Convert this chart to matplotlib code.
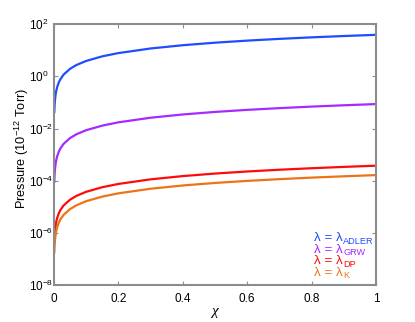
import matplotlib
matplotlib.use("Agg")
import matplotlib.pyplot as plt

plt.rcParams["font.family"] = ["Liberation Sans", "DejaVu Sans"]
plt.rcParams["mathtext.fontset"] = "custom"
plt.rcParams["mathtext.rm"] = "Liberation Sans"
plt.rcParams["mathtext.it"] = "Liberation Sans"

GRAY = "#8c8c8c"

chi = [0.001, 0.002, 0.003, 0.005, 0.007, 0.01, 0.015, 0.02, 0.03, 0.05, 0.07,
       0.1, 0.15, 0.2, 0.3, 0.4, 0.5, 0.6, 0.7, 0.8, 0.9, 1.0]
p_adler = [0.039, 0.078, 0.117, 0.195, 0.273, 0.39, 0.585, 0.78, 1.17, 1.95, 2.73,
           3.9, 5.85, 7.8, 11.7, 15.6, 19.5, 23.4, 27.3, 31.2, 35.1, 39.0]
p_grw = [8.7e-5, 1.74e-4, 2.61e-4, 4.35e-4, 6.09e-4, 8.7e-4, 1.3e-3, 1.74e-3, 2.61e-3,
         4.35e-3, 6.09e-3, 8.7e-3, 1.3e-2, 1.74e-2, 2.61e-2, 3.48e-2, 4.35e-2,
         5.22e-2, 6.09e-2, 6.96e-2, 7.83e-2, 8.7e-2]
p_dp = [3.8e-7, 7.6e-7, 1.14e-6, 1.9e-6, 2.66e-6, 3.8e-6, 5.7e-6, 7.6e-6, 1.14e-5,
        1.9e-5, 2.66e-5, 3.8e-5, 5.7e-5, 7.6e-5, 1.14e-4, 1.52e-4, 1.9e-4,
        2.28e-4, 2.66e-4, 3.04e-4, 3.42e-4, 3.8e-4]
p_k = [1.66e-7, 3.32e-7, 4.98e-7, 8.3e-7, 1.16e-6, 1.66e-6, 2.49e-6, 3.32e-6, 4.98e-6,
       8.3e-6, 1.16e-5, 1.66e-5, 2.49e-5, 3.32e-5, 4.98e-5, 6.64e-5, 8.3e-5,
       9.96e-5, 1.16e-4, 1.33e-4, 1.49e-4, 1.66e-4]

series = [
    (p_adler, "#1f4cff", "ADLER"),
    (p_grw, "#a52aff", "GRW"),
    (p_dp, "#ff0a0a", "DP"),
    (p_k, "#ec7417", "K"),
]

xticks = [0, 0.2, 0.4, 0.6, 0.8, 1]
xticklabels = ["0", "0.2", "0.4", "0.6", "0.8", "1"]
yexp = [-8, -6, -4, -2, 0, 2]

fig = plt.figure(figsize=(4.15, 3.22), dpi=100)
ax = fig.add_axes([0.130, 0.114, 0.776, 0.811])

for p, c, sub in series:
    ax.plot(chi, p, color=c, lw=1.6, solid_capstyle="butt")

ax.set_yscale("log")
ax.set_xlim(0, 1)
ax.set_ylim(1e-8, 1e2)
ax.set_xticks(xticks)
ax.set_xticklabels(xticklabels)
ax.set_yticks([10.0 ** e for e in yexp])
ax.set_yticklabels([r"$10^{%d}$" % e for e in yexp])
ax.minorticks_off()
ax.tick_params(direction="in", length=3, width=0.8, color=GRAY, labelsize=8.5,
               top=True, right=True)
ax.tick_params(axis="x", pad=5.2)
ax.tick_params(axis="y", pad=18)
for t in ax.get_yticklabels():
    t.set_horizontalalignment("left")
for s in ax.spines.values():
    s.set_color(GRAY)
    s.set_linewidth(1.5)

ax.set_xlabel("χ", fontsize=11, family="Liberation Serif", style="italic", labelpad=0)
ax.set_ylabel(r"Pressure (10$^{-12}$ Torr)", fontsize=9.2)
ax.yaxis.set_label_coords(-0.072, 0.524)

# coloured "legend": main text plus a separate, slightly lowered subscript
for i, (p, c, sub) in enumerate(series):
    main = ax.text(0.808, 0.168 - i * 0.044, "λ = λ", color=c, fontsize=9.6,
                   transform=ax.transAxes, va="baseline", ha="left")
    ax.annotate(sub, xy=(1, 0), xycoords=main, xytext=(0.3, -1.0),
                textcoords="offset points", color=c, fontsize=6.6,
                va="bottom", ha="left")

fig.savefig("out.png", dpi=100, facecolor="white")
